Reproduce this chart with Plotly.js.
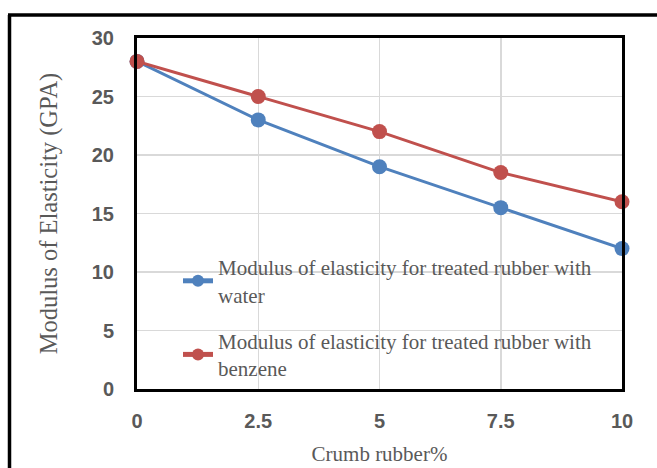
<!DOCTYPE html>
<html><head><meta charset="utf-8">
<script src="https://cdn.plot.ly/plotly-3.0.1.min.js"></script>
<style>html,body{margin:0;padding:0;background:#fff}#chart{width:657px;height:468px}</style>
</head><body><div id="chart"></div>
<script>
const crumbRubber = [0, 2.5, 5, 7.5, 10];
const waterModulus = [28, 23, 19, 15.5, 12];
const benzeneModulus = [28, 25, 22, 18.5, 16];
const seriesNames = ['Modulus of elasticity for treated rubber with<br>water', 'Modulus of elasticity for treated rubber with<br>benzene'];
const xTickVals = [0, 2.5, 5, 7.5, 10];
const xTickText = ['0', '2.5', '5', '7.5', '10'];

const L = 137, R = 622, T = 38, B = 389, W = 657, H = 468;
const px = v => (v - L) / (R - L);
const py = v => (B - v) / (B - T);
const serif = "'Liberation Serif', 'Times New Roman', serif";

const traces = [
  {x: crumbRubber, y: waterModulus, name: seriesNames[0], legendgroup: 'a', type: 'scatter', mode: 'lines+markers', cliponaxis: false,
   line: {color: '#4F81BD', width: 3}, marker: {color: '#4F81BD', size: 15}},
  {x: crumbRubber, y: benzeneModulus, name: seriesNames[1], legendgroup: 'b', type: 'scatter', mode: 'lines+markers', cliponaxis: false,
   line: {color: '#C0504D', width: 3}, marker: {color: '#C0504D', size: 15}}
];
const tickFont = {family: "'Liberation Sans', Arial, sans-serif", size: 20, color: '#595959', weight: 'bold'};
const layout = {
  width: W, height: H,
  margin: {l: L, r: W - R, t: T, b: H - B},
  paper_bgcolor: '#fff', plot_bgcolor: '#fff',
  showlegend: true,
  legend: {x: px(178), y: py(247), xanchor: 'left', yanchor: 'top', bgcolor: 'rgba(0,0,0,0)',
    font: {family: serif, size: 21, color: '#595959'}, itemsizing: 'constant',
    tracegroupgap: 16},
  xaxis: {range: [0, 10], tickvals: xTickVals, ticktext: xTickText, showgrid: true, gridcolor: '#d9d9d9', gridwidth: 1.5,
    zeroline: false, showline: true, linecolor: '#000', linewidth: 3, mirror: true,
    ticks: 'outside', ticklen: 12, tickcolor: 'rgba(0,0,0,0)', tickfont: tickFont,
    title: {text: 'Crumb rubber%', font: {family: serif, size: 21, color: '#595959'}, standoff: 16}},
  yaxis: {range: [0, 30], dtick: 5, showgrid: true, gridcolor: '#d9d9d9', gridwidth: 1.5,
    zeroline: false, showline: true, linecolor: '#000', linewidth: 3, mirror: true,
    ticks: 'outside', ticklen: 16, tickcolor: 'rgba(0,0,0,0)', tickfont: tickFont,
    title: {text: 'Modulus of Elasticity (GPA)', font: {family: serif, size: 24.5, color: '#595959'}, standoff: 28}},
  shapes: [
    {type: 'line', xref: 'paper', yref: 'paper', x0: px(9.5), x1: px(9.5), y0: py(480), y1: py(15), line: {color: '#000', width: 3.5}},
    {type: 'line', xref: 'paper', yref: 'paper', x0: px(8), x1: px(670), y0: py(15), y1: py(15), line: {color: '#000', width: 3.5}}
  ]
};
Plotly.newPlot('chart', traces, layout, {displayModeBar: false, staticPlot: true});
</script></body></html>
